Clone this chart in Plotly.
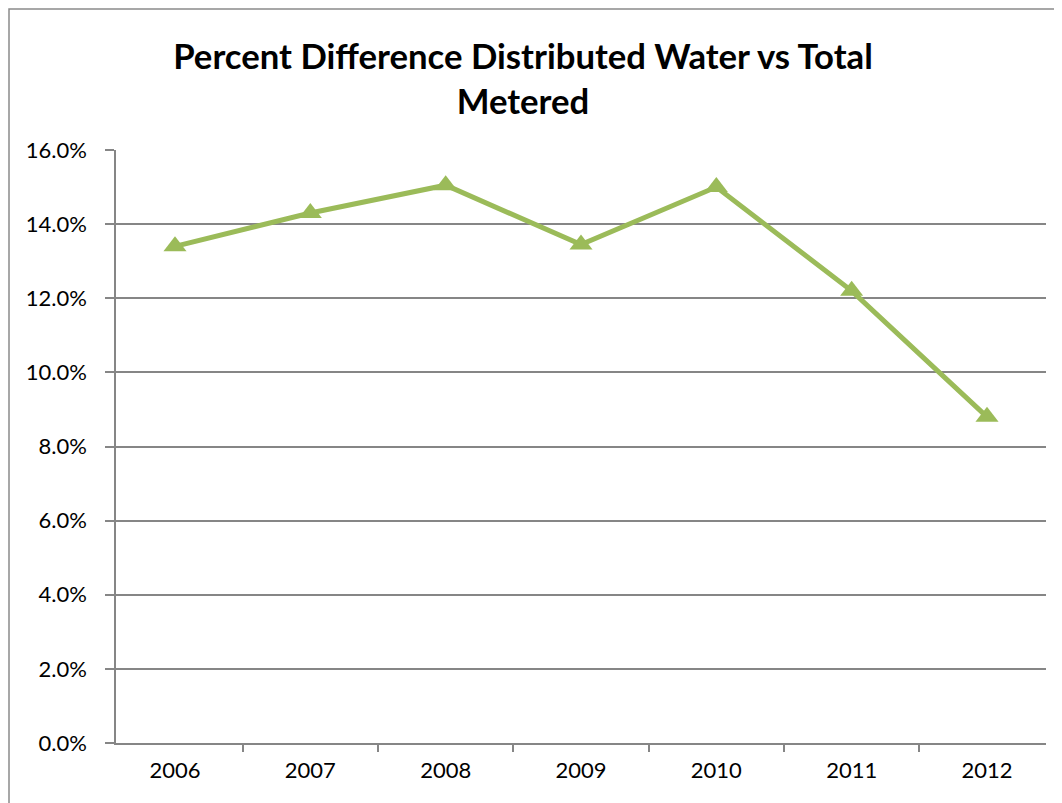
import plotly.graph_objects as go

years = ["2006", "2007", "2008", "2009", "2010", "2011", "2012"]
pct_diff = [0.134, 0.143, 0.1505, 0.1345, 0.150, 0.122, 0.088]
y_ticks = [0.0, 0.02, 0.04, 0.06, 0.08, 0.10, 0.12, 0.14, 0.16]

OFF = 8  # page body offset
W, H = 1062 - OFF, 803 - OFF
L, T = 116 - OFF, 150 - OFF
R = W - (1046 - OFF)
B = H - (743 - OFF)
pw, ph = W - L - R, H - T - B

fig = go.Figure()
fig.add_trace(go.Scatter(
    x=years, y=pct_diff, mode="lines+markers",
    line=dict(color="#9BBB59", width=5),
    marker=dict(symbol="triangle-up", size=20, color="#9BBB59"),
    showlegend=False, hoverinfo="skip",
))

grid = "#868686"
fig.update_layout(
    width=W, height=H,
    margin=dict(l=L, r=R, t=T, b=B),
    paper_bgcolor="white", plot_bgcolor="white",
    font=dict(family="Lato, Carlito, sans-serif", color="black", size=22),
    title=dict(
        text="Percent Difference Distributed Water vs Total<br>Metered",
        font=dict(family="Lato, Carlito, sans-serif", size=34.7, color="black", weight="bold"),
        x=(523 - OFF) / W, xanchor="center", xref="container",
        y=1 - 61 / H, yanchor="top", yref="container",
    ),
    xaxis=dict(
        type="category", showgrid=False,
        showline=True, linecolor=grid, linewidth=1.5,
        ticks="outside", tickson="boundaries", ticklen=7, tickcolor=grid, tickwidth=1.5,
        tickfont=dict(size=22), ticklabelstandoff=7, fixedrange=True,
    ),
    yaxis=dict(
        range=[0, 0.16], tickvals=y_ticks, tickformat=".1%",
        showgrid=True, gridcolor=grid, gridwidth=1.5,
        showline=True, linecolor=grid, linewidth=1.5,
        ticks="outside", ticklen=9, tickcolor=grid, tickwidth=1.5,
        zeroline=False, tickfont=dict(size=22), ticklabelstandoff=14, fixedrange=True,
    ),
    shapes=[dict(
        type="rect", xref="paper", yref="paper",
        x0=(1 - L) / pw, x1=1.2, y0=-0.3, y1=(H - B - 1) / ph,
        line=dict(color="#8a8a8a", width=1.5), fillcolor="rgba(0,0,0,0)", layer="below",
    )],
)

fig.write_html("out.html")
